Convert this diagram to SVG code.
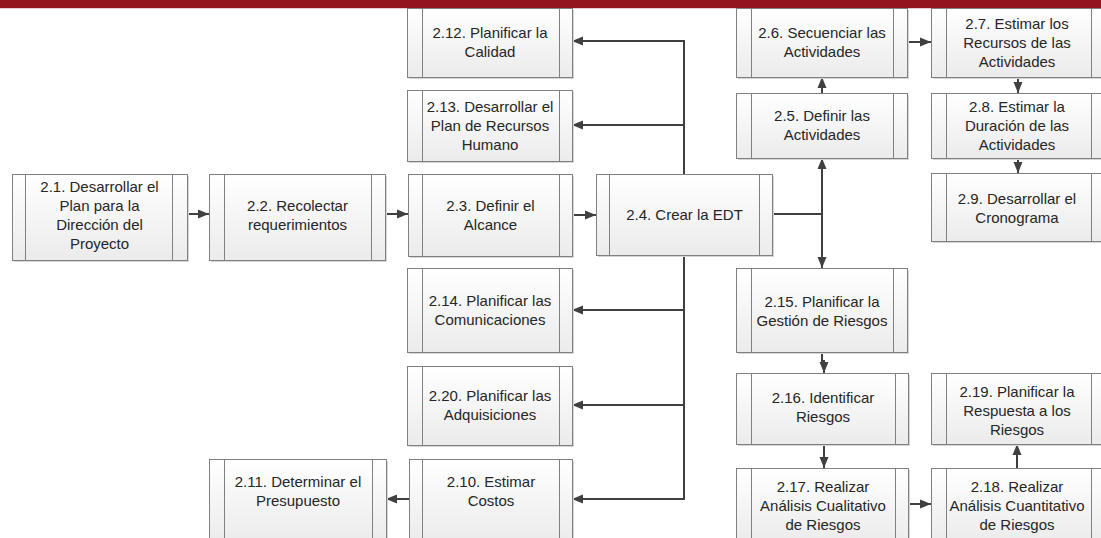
<svg xmlns="http://www.w3.org/2000/svg" width="1101" height="538" viewBox="0 0 1101 538">
  <defs>
    <linearGradient id="fillGrad" x1="0" y1="0" x2="0" y2="1">
      <stop offset="0" stop-color="#ffffff"/>
      <stop offset="1" stop-color="#ebebeb"/>
    </linearGradient>
    <marker id="arrow" markerUnits="userSpaceOnUse" markerWidth="12" markerHeight="10" refX="11" refY="5" orient="auto">
      <path d="M0,0.5 L11,5 L0,9.5 Z" fill="#404040"/>
    </marker>
  </defs>
  <style>
    .shadow { fill: #d6d6d6; }
    .box { fill: url(#fillGrad); stroke: #808080; stroke-width: 1; }
    .bar { stroke: #808080; stroke-width: 1; }
    .label { font-family: "Liberation Sans", Arial, sans-serif; font-size: 15px; fill: #262626; text-anchor: middle; }
    .conn { fill: none; stroke: #404040; stroke-width: 2; }
  </style>

  <rect width="1101" height="538" fill="#ffffff"/>

  <!-- header band -->
  <rect x="0" y="0" width="1101" height="8" fill="#93131f"/>
  <rect x="0" y="8" width="1101" height="1" fill="#e9c9cd"/>

  <!-- connectors -->
  <g id="connectors">
    <path class="conn" d="M187,214 H209" marker-end="url(#arrow)"/>
    <path class="conn" d="M385,214 H408" marker-end="url(#arrow)"/>
    <path class="conn" d="M572,215 H596" marker-end="url(#arrow)"/>
    <path class="conn" d="M684,174 V41 H572" marker-end="url(#arrow)"/>
    <path class="conn" d="M684,125 H572" marker-end="url(#arrow)"/>
    <path class="conn" d="M684,256 V499 H572" marker-end="url(#arrow)"/>
    <path class="conn" d="M684,310 H572" marker-end="url(#arrow)"/>
    <path class="conn" d="M684,405 H572" marker-end="url(#arrow)"/>
    <path class="conn" d="M409,499 H386" marker-end="url(#arrow)"/>
    <path class="conn" d="M772,214 H822"/>
    <path class="conn" d="M822,214 V158" marker-end="url(#arrow)"/>
    <path class="conn" d="M822,214 V268" marker-end="url(#arrow)"/>
    <path class="conn" d="M822,93 V77" marker-end="url(#arrow)"/>
    <path class="conn" d="M907,42 H931" marker-end="url(#arrow)"/>
    <path class="conn" d="M1018,77 V93" marker-end="url(#arrow)"/>
    <path class="conn" d="M1018,158 V173" marker-end="url(#arrow)"/>
    <path class="conn" d="M822,352 V361 H824 V373" marker-end="url(#arrow)"/>
    <path class="conn" d="M824,444 V468" marker-end="url(#arrow)"/>
    <path class="conn" d="M909,504 H931" marker-end="url(#arrow)"/>
    <path class="conn" d="M1017,468 V444" marker-end="url(#arrow)"/>
  </g>

  <!-- process nodes: shadow, body and two inner side bars -->
  <g id="n2_1">
    <rect class="shadow" x="14" y="176" width="175" height="86"/>
    <rect class="box" x="12.5" y="174.5" width="175" height="86"/>
    <path class="bar" d="M25.5,174.5 V260.5 M172.5,174.5 V260.5"/>
    <text class="label"><tspan x="99.5" y="192">2.1. Desarrollar el</tspan><tspan x="99.5" y="211">Plan para la</tspan><tspan x="99.5" y="230">Dirección del</tspan><tspan x="99.5" y="249">Proyecto</tspan></text>
  </g>
  <g id="n2_2">
    <rect class="shadow" x="211" y="176" width="176" height="86"/>
    <rect class="box" x="209.5" y="174.5" width="176" height="86"/>
    <path class="bar" d="M224.5,174.5 V260.5 M371.5,174.5 V260.5"/>
    <text class="label"><tspan x="297.5" y="211">2.2. Recolectar</tspan><tspan x="297.5" y="230">requerimientos</tspan></text>
  </g>
  <g id="n2_3">
    <rect class="shadow" x="410" y="176" width="164" height="82"/>
    <rect class="box" x="408.5" y="174.5" width="164" height="82"/>
    <path class="bar" d="M422.5,174.5 V256.5 M559.5,174.5 V256.5"/>
    <text class="label"><tspan x="490.5" y="211">2.3. Definir el</tspan><tspan x="490.5" y="230">Alcance</tspan></text>
  </g>
  <g id="n2_4">
    <rect class="shadow" x="598" y="176" width="176" height="81"/>
    <rect class="box" x="596.5" y="174.5" width="176" height="81"/>
    <path class="bar" d="M609.5,174.5 V255.5 M759.5,174.5 V255.5"/>
    <text class="label" x="684.5" y="220">2.4. Crear la EDT</text>
  </g>
  <g id="n2_12">
    <rect class="shadow" x="409" y="10" width="165" height="69"/>
    <rect class="box" x="407.5" y="8.5" width="165" height="69"/>
    <path class="bar" d="M422.5,8.5 V77.5 M559.5,8.5 V77.5"/>
    <text class="label"><tspan x="490" y="38">2.12. Planificar la</tspan><tspan x="490" y="57">Calidad</tspan></text>
  </g>
  <g id="n2_13">
    <rect class="shadow" x="409" y="92" width="165" height="71"/>
    <rect class="box" x="407.5" y="90.5" width="165" height="71"/>
    <path class="bar" d="M422.5,90.5 V161.5 M559.5,90.5 V161.5"/>
    <text class="label"><tspan x="490" y="112">2.13. Desarrollar el</tspan><tspan x="490" y="131">Plan de Recursos</tspan><tspan x="490" y="150">Humano</tspan></text>
  </g>
  <g id="n2_14">
    <rect class="shadow" x="409" y="270" width="165" height="84"/>
    <rect class="box" x="407.5" y="268.5" width="165" height="84"/>
    <path class="bar" d="M422.5,268.5 V352.5 M559.5,268.5 V352.5"/>
    <text class="label"><tspan x="490" y="306">2.14. Planificar las</tspan><tspan x="490" y="325">Comunicaciones</tspan></text>
  </g>
  <g id="n2_20">
    <rect class="shadow" x="409" y="368" width="165" height="79"/>
    <rect class="box" x="407.5" y="366.5" width="165" height="79"/>
    <path class="bar" d="M422.5,366.5 V445.5 M559.5,366.5 V445.5"/>
    <text class="label"><tspan x="490" y="401">2.20. Planificar las</tspan><tspan x="490" y="420">Adquisiciones</tspan></text>
  </g>
  <g id="n2_10">
    <rect class="shadow" x="411" y="461" width="163" height="84"/>
    <rect class="box" x="409.5" y="459.5" width="163" height="84"/>
    <path class="bar" d="M422.5,459.5 V543 M559.5,459.5 V543"/>
    <text class="label"><tspan x="491" y="487">2.10. Estimar</tspan><tspan x="491" y="506">Costos</tspan></text>
  </g>
  <g id="n2_11">
    <rect class="shadow" x="211" y="461" width="177" height="84"/>
    <rect class="box" x="209.5" y="459.5" width="177" height="84"/>
    <path class="bar" d="M224.5,459.5 V543 M372.5,459.5 V543"/>
    <text class="label"><tspan x="298" y="487">2.11. Determinar el</tspan><tspan x="298" y="506">Presupuesto</tspan></text>
  </g>
  <g id="n2_6">
    <rect class="shadow" x="738" y="10" width="171" height="69"/>
    <rect class="box" x="736.5" y="8.5" width="171" height="69"/>
    <path class="bar" d="M751.5,8.5 V77.5 M893.5,8.5 V77.5"/>
    <text class="label"><tspan x="822" y="38">2.6. Secuenciar las</tspan><tspan x="822" y="57">Actividades</tspan></text>
  </g>
  <g id="n2_5">
    <rect class="shadow" x="738" y="95" width="171" height="65"/>
    <rect class="box" x="736.5" y="93.5" width="171" height="65"/>
    <path class="bar" d="M751.5,93.5 V158.5 M893.5,93.5 V158.5"/>
    <text class="label"><tspan x="822" y="121">2.5. Definir las</tspan><tspan x="822" y="140">Actividades</tspan></text>
  </g>
  <g id="n2_7">
    <rect class="shadow" x="933" y="10" width="171" height="69"/>
    <rect class="box" x="931.5" y="8.5" width="171" height="69"/>
    <path class="bar" d="M946.5,8.5 V77.5 M1091.5,8.5 V77.5"/>
    <text class="label"><tspan x="1017" y="29">2.7. Estimar los</tspan><tspan x="1017" y="48">Recursos de las</tspan><tspan x="1017" y="67">Actividades</tspan></text>
  </g>
  <g id="n2_8">
    <rect class="shadow" x="933" y="95" width="171" height="65"/>
    <rect class="box" x="931.5" y="93.5" width="171" height="65"/>
    <path class="bar" d="M946.5,93.5 V158.5 M1091.5,93.5 V158.5"/>
    <text class="label"><tspan x="1017" y="112">2.8. Estimar la</tspan><tspan x="1017" y="131">Duración de las</tspan><tspan x="1017" y="150">Actividades</tspan></text>
  </g>
  <g id="n2_9">
    <rect class="shadow" x="933" y="175" width="171" height="68"/>
    <rect class="box" x="931.5" y="173.5" width="171" height="68"/>
    <path class="bar" d="M946.5,173.5 V241.5 M1091.5,173.5 V241.5"/>
    <text class="label"><tspan x="1017" y="204">2.9. Desarrollar el</tspan><tspan x="1017" y="223">Cronograma</tspan></text>
  </g>
  <g id="n2_15">
    <rect class="shadow" x="738" y="270" width="171" height="84"/>
    <rect class="box" x="736.5" y="268.5" width="171" height="84"/>
    <path class="bar" d="M751.5,268.5 V352.5 M893.5,268.5 V352.5"/>
    <text class="label"><tspan x="822" y="307">2.15. Planificar la</tspan><tspan x="822" y="326">Gestión de Riesgos</tspan></text>
  </g>
  <g id="n2_16">
    <rect class="shadow" x="738" y="375" width="172" height="71"/>
    <rect class="box" x="736.5" y="373.5" width="172" height="71"/>
    <path class="bar" d="M751.5,373.5 V444.5 M895.5,373.5 V444.5"/>
    <text class="label"><tspan x="823" y="403">2.16. Identificar</tspan><tspan x="823" y="422">Riesgos</tspan></text>
  </g>
  <g id="n2_17">
    <rect class="shadow" x="738" y="470" width="172" height="75"/>
    <rect class="box" x="736.5" y="468.5" width="172" height="75"/>
    <path class="bar" d="M751.5,468.5 V543 M895.5,468.5 V543"/>
    <text class="label"><tspan x="823" y="492">2.17. Realizar</tspan><tspan x="823" y="511">Análisis Cualitativo</tspan><tspan x="823" y="530">de Riesgos</tspan></text>
  </g>
  <g id="n2_19">
    <rect class="shadow" x="933" y="375" width="171" height="71"/>
    <rect class="box" x="931.5" y="373.5" width="171" height="71"/>
    <path class="bar" d="M946.5,373.5 V444.5 M1091.5,373.5 V444.5"/>
    <text class="label"><tspan x="1017" y="397">2.19. Planificar la</tspan><tspan x="1017" y="416">Respuesta a los</tspan><tspan x="1017" y="435">Riesgos</tspan></text>
  </g>
  <g id="n2_18">
    <rect class="shadow" x="933" y="470" width="171" height="75"/>
    <rect class="box" x="931.5" y="468.5" width="171" height="75"/>
    <path class="bar" d="M946.5,468.5 V543 M1091.5,468.5 V543"/>
    <text class="label"><tspan x="1017" y="492">2.18. Realizar</tspan><tspan x="1017" y="511">Análisis Cuantitativo</tspan><tspan x="1017" y="530">de Riesgos</tspan></text>
  </g>
</svg>
